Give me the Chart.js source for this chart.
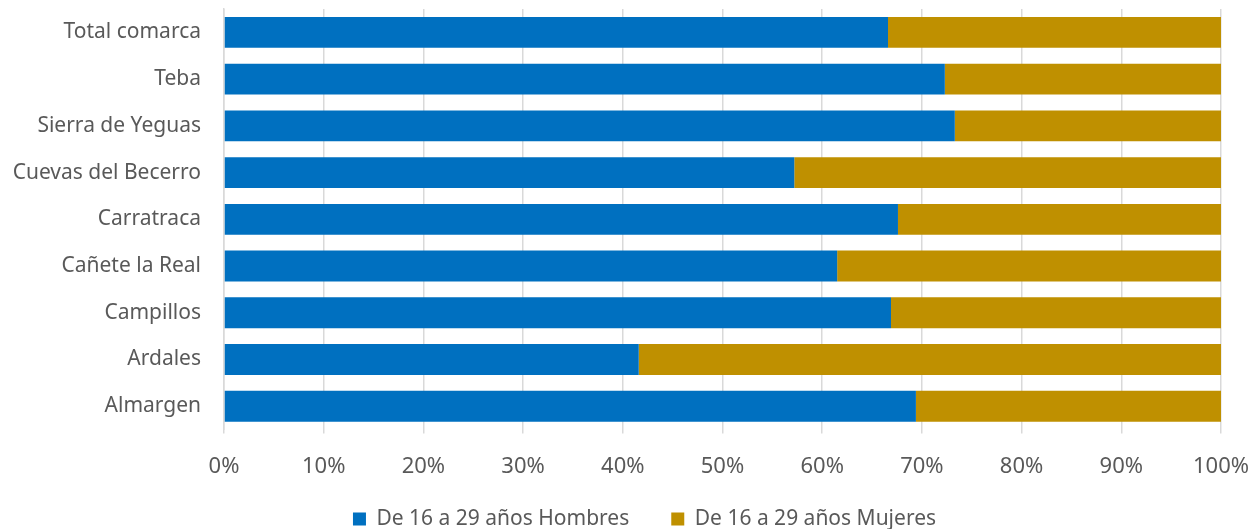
<!DOCTYPE html>
<html>
<head>
<meta charset="utf-8">
<script src="https://cdn.jsdelivr.net/npm/chart.js@4"></script>
<style>
  html, body { margin: 0; padding: 0; background: #fff; }
  #wrap { width: 1253px; height: 529px; }
</style>
</head>
<body>
<div id="wrap"><canvas id="chart"></canvas></div>
<script>
// Municipios (top to bottom)
const categories = ['Total comarca', 'Teba', 'Sierra de Yeguas', 'Cuevas del Becerro',
  'Carratraca', 'Cañete la Real', 'Campillos', 'Ardales', 'Almargen'];

// Share of each group, in percent
const hombres = [66.6, 72.3, 73.3, 57.2, 67.6, 61.5, 66.9, 41.6, 69.4];
const mujeres = [33.4, 27.7, 26.7, 42.8, 32.4, 38.5, 33.1, 58.4, 30.6];

const seriesNames = ['De 16 a 29 años Hombres', 'De 16 a 29 años Mujeres'];

const FONT = 'Noto Sans';
const TEXT = '#595959';

// Pull the legend up under the axis labels and re-centre it
const legendNudge = {
    id: 'legendNudge',
    afterLayout(chart) {
        const lg = chart.legend;
        if (!lg) return;
        lg.top = chart.chartArea.bottom + 37;
        lg.left += 18;
        lg.right += 18;
    }
};

const ctx = document.getElementById('chart').getContext('2d');
new Chart(ctx, {
    type: 'bar',
    data: {
        labels: categories,
        datasets: [
            { label: seriesNames[0], data: hombres, backgroundColor: '#0070c0' },
            { label: seriesNames[1], data: mujeres, backgroundColor: '#bf9000' }
        ]
    },
    options: {
        indexAxis: 'y',
        responsive: true,
        maintainAspectRatio: false,
        animation: false,
        categoryPercentage: 0.66,
        barPercentage: 1,
        layout: { padding: { top: 9, right: 0, bottom: 0, left: 0 } },
        scales: {
            x: {
                stacked: true,
                min: 0,
                max: 100,
                ticks: {
                    stepSize: 10,
                    padding: 20,
                    color: TEXT,
                    font: { family: FONT, size: 22 },
                    callback: v => v + '%'
                },
                grid: { color: '#d9d9d9', lineWidth: 1.5, tickLength: 4 },
                border: { display: false },
                afterFit: s => { s.paddingRight = 32; }
            },
            y: {
                stacked: true,
                ticks: {
                    padding: 15,
                    color: TEXT,
                    font: { family: FONT, size: 21 }
                },
                grid: { display: false },
                border: { display: true, color: '#d9d9d9', width: 1.5 },
                afterFit: s => { s.width = 224; s.paddingTop = 0; s.paddingBottom = 0; }
            }
        },
        plugins: {
            legend: {
                position: 'bottom',
                maxHeight: 29,
                labels: {
                    boxWidth: 13,
                    boxHeight: 13,
                    padding: 42,
                    color: TEXT,
                    font: { family: FONT, size: 21 }
                }
            },
            tooltip: { enabled: false }
        }
    },
    plugins: [legendNudge]
});
</script>
</body>
</html>
